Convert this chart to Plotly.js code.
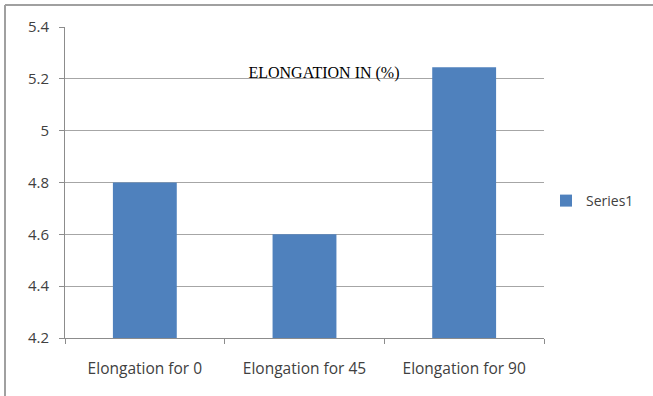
<!DOCTYPE html>
<html>
<head>
<meta charset="utf-8">
<script src="https://cdn.plot.ly/plotly-3.0.1.min.js"></script>
<style>html,body{margin:0;padding:0;background:#fff;}#chart{width:653px;height:396px;}</style>
</head>
<body>
<div id="chart"></div>
<script>
var categories = ["Elongation for 0", "Elongation for 45", "Elongation for 90"];
var values = [4.8, 4.6, 5.245];
var seriesName = "Series1";
var chartTitle = "ELONGATION IN (%)";
var yTicks = [4.2, 4.4, 4.6, 4.8, 5, 5.2, 5.4];

var trace = {
  type: "bar",
  x: categories,
  y: values,
  name: seriesName,
  marker: {color: "#4F81BD", line: {width: 0}},
  showlegend: true
};

var layout = {
  width: 653,
  height: 396,
  margin: {l: 65, r: 109, t: 27, b: 58, autoexpand: false},
  paper_bgcolor: "#ffffff",
  plot_bgcolor: "#ffffff",
  bargap: 0.6,
  font: {family: "'Open Sans', sans-serif", size: 14, color: "#404040"},
  title: {
    text: chartTitle,
    font: {family: "'Liberation Serif', serif", size: 16, color: "#000"},
    x: 324/653, xanchor: "center",
    y: 1 - 72/396, yanchor: "middle"
  },
  xaxis: {
    type: "category",
    showline: true, linecolor: "#8c8c8c", linewidth: 1,
    ticks: "outside", tickson: "boundaries", ticklen: 5, tickcolor: "#8c8c8c",
    showgrid: false,
    ticklabelstandoff: 16,
    tickfont: {size: 15.5, color: "#404040"}
  },
  yaxis: {
    range: [4.2, 5.4],
    tickvals: yTicks,
    ticktext: yTicks.map(String),
    showline: true, linecolor: "#8c8c8c", linewidth: 1,
    ticks: "outside", ticklen: 5, tickcolor: "#8c8c8c",
    showgrid: true, gridcolor: "#a6a6a6", gridwidth: 1,
    zeroline: false,
    tickfont: {size: 15, color: "#404040"},
    ticklabelstandoff: 7
  },
  legend: {
    xref: "container", yref: "container",
    x: 546/653, xanchor: "left", y: 1 - 201/396, yanchor: "middle",
    font: {size: 14, color: "#404040"},
    bgcolor: "rgba(0,0,0,0)"
  },
  shapes: [
    {type: "line", xref: "paper", yref: "paper",
     x0: -60/479, x1: -60/479, y0: -58/311, y1: 1 + 22/311,
     line: {color: "#a0a0a0", width: 2}},
    {type: "line", xref: "paper", yref: "paper",
     x0: -60/479, x1: 1 + 109/479, y0: 1 + 22/311, y1: 1 + 22/311,
     line: {color: "#a0a0a0", width: 2}}
  ]
};

Plotly.newPlot("chart", [trace], layout, {displayModeBar: false, staticPlot: true});
</script>
</body>
</html>
